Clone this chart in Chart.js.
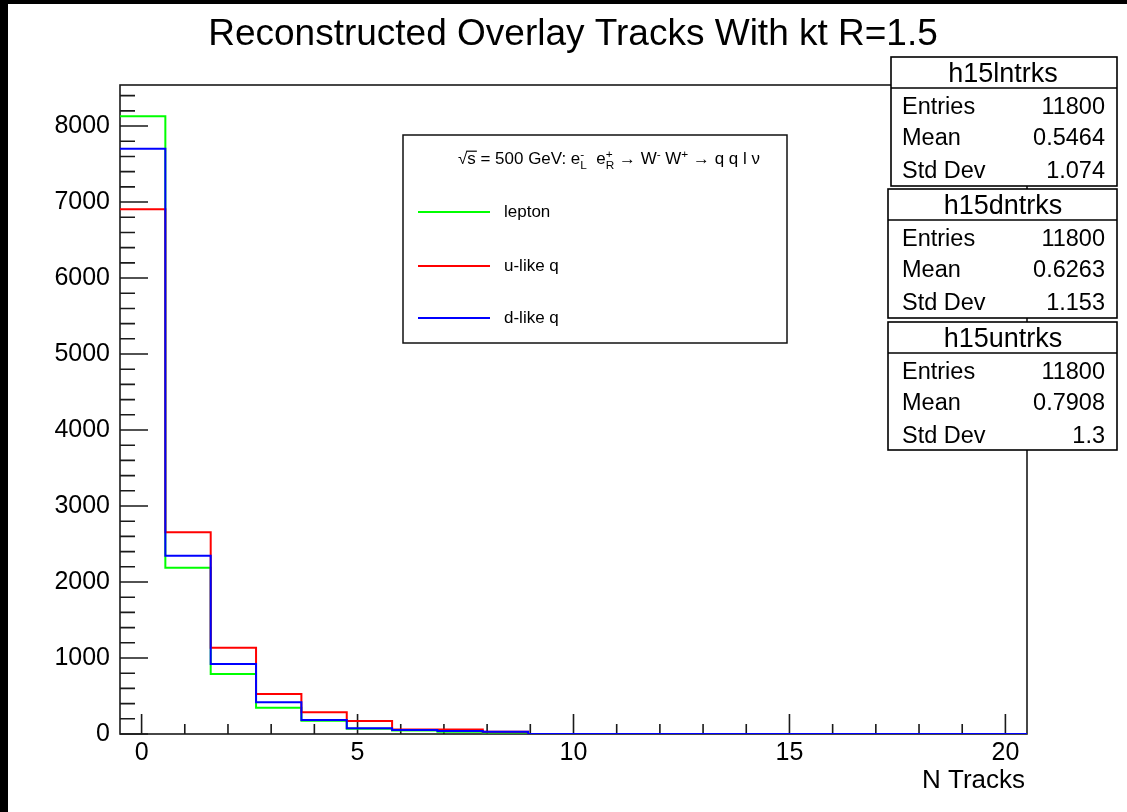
<!DOCTYPE html>
<html>
<head>
<meta charset="utf-8">
<title>Reconstructed Overlay Tracks</title>
<script src="https://cdn.jsdelivr.net/npm/chart.js@4.4.0/dist/chart.umd.min.js"></script>
<style>
  html, body { margin: 0; padding: 0; background: #fff; }
  #plot { display: block; }
</style>
</head>
<body>
<canvas id="plot" width="1127" height="812"></canvas>
<script>
"use strict";

// histogram binning: 20 bins from -0.5 to 20.5
const binLow = -0.5;
const binHigh = 20.5;
const nBins = 20;

// track counts per bin
const leptonCounts = [8130, 2188, 789, 346, 175, 70, 45, 30, 20, 0, 0, 0, 0, 0, 0, 0, 0, 0, 0, 0];
const uLikeCounts  = [6905, 2654, 1136, 526, 286, 171, 59, 59, 30, 0, 0, 0, 0, 0, 0, 0, 0, 0, 0, 0];
const dLikeCounts  = [7701, 2346, 921, 417, 184, 75, 53, 40, 30, 0, 0, 0, 0, 0, 0, 0, 0, 0, 0, 0];

const seriesNames = ['lepton', 'u-like q', 'd-like q'];
const seriesColors = ['#00ff00', '#ff0000', '#0000ff'];

const xTickLabels = [0, 5, 10, 15, 20];
const yTickLabels = [0, 1000, 2000, 3000, 4000, 5000, 6000, 7000, 8000];
const yMax = 8540;

// stats boxes, top to bottom
const statNames   = ['h15lntrks', 'h15dntrks', 'h15untrks'];
const statEntries = ['11800', '11800', '11800'];
const statMeans   = ['0.5464', '0.6263', '0.7908'];
const statStdDevs = ['1.074', '1.153', '1.3'];

const FONT = '"Liberation Sans", Arial, Helvetica, sans-serif';

function toSteps(counts) {
    const width = (binHigh - binLow) / nBins;
    const pts = counts.map((c, i) => ({ x: binLow + i * width, y: c }));
    pts.push({ x: binHigh, y: counts[counts.length - 1] });
    return pts;
}

function histDataset(i, counts, order) {
    return {
        label: seriesNames[i],
        data: toSteps(counts),
        borderColor: seriesColors[i],
        borderWidth: 2,
        pointRadius: 0,
        fill: false,
        stepped: 'before',
        order: order
    };
}

// axis frame with ROOT-style ticks pointing inward
const frameTicks = {
    id: 'frameTicks',
    beforeDatasetsDraw(chart) {
        const ctx = chart.ctx;
        const a = chart.chartArea;
        const xs = chart.scales.x;
        const ys = chart.scales.y;
        ctx.save();
        ctx.strokeStyle = '#1a1a1a';
        ctx.lineWidth = 1.6;
        ctx.strokeRect(a.left, a.top, a.right - a.left, a.bottom - a.top);
        ctx.beginPath();
        for (let v = 0; v <= 20; v++) {
            const px = xs.getPixelForValue(v);
            const len = v % 5 === 0 ? 20 : 10;
            ctx.moveTo(px, a.bottom);
            ctx.lineTo(px, a.bottom - len);
        }
        for (let v = 0; v <= yMax; v += 200) {
            const py = ys.getPixelForValue(v);
            const len = v % 1000 === 0 ? 28 : 15;
            ctx.moveTo(a.left, py);
            ctx.lineTo(a.left + len, py);
        }
        ctx.stroke();
        ctx.restore();
    }
};

// draws a run of text pieces with optional super/subscripts
function drawRich(ctx, parts, x, y, size) {
    let cx = x;
    parts.forEach(p => {
        const s = p.small ? size * 0.7 : size;
        ctx.font = s + 'px ' + FONT;
        const dy = p.sup ? -size * 0.38 : (p.sub ? size * 0.3 : 0);
        ctx.fillText(p.t, cx, y + dy);
        const w = ctx.measureText(p.t).width;
        if (p.bar) {
            ctx.beginPath();
            ctx.lineWidth = 1.2;
            ctx.moveTo(cx - 1, y - size * 0.8);
            ctx.lineTo(cx + w + 1, y - size * 0.8);
            ctx.stroke();
        }
        if (!p.stack) cx += w;
    });
    return cx - x;
}

const annotations = {
    id: 'annotations',
    afterDraw(chart) {
        const ctx = chart.ctx;
        ctx.save();
        ctx.fillStyle = '#000';
        ctx.strokeStyle = '#000';

        // title
        ctx.font = '37px ' + FONT;
        ctx.textAlign = 'center';
        ctx.textBaseline = 'alphabetic';
        ctx.fillText('Reconstructed Overlay Tracks With kt R=1.5', 573, 45);

        // x axis title
        ctx.font = '26px ' + FONT;
        ctx.textAlign = 'right';
        ctx.fillText('N Tracks', 1025, 788);

        // legend
        ctx.fillStyle = '#fff';
        ctx.fillRect(403, 135, 384, 208);
        ctx.lineWidth = 1.5;
        ctx.strokeStyle = '#111';
        ctx.strokeRect(403, 135, 384, 208);
        ctx.fillStyle = '#000';
        ctx.strokeStyle = '#000';
        ctx.textAlign = 'left';
        const header = [
            { t: '√' }, { t: 's', bar: true }, { t: ' = 500 GeV: e' },
            { t: '-', sup: true, small: true, stack: true }, { t: 'L', sub: true, small: true },
            { t: '  e' }, { t: '+', sup: true, small: true, stack: true }, { t: 'R', sub: true, small: true },
            { t: ' → W' }, { t: '-', sup: true, small: true }, { t: ' W' }, { t: '+', sup: true, small: true },
            { t: ' → q q l ν' }
        ];
        ctx.save();
        ctx.translate(458, 164);
        ctx.scale(1.06, 1);
        drawRich(ctx, header, 0, 0, 16);
        ctx.restore();

        const rowY = [212, 266, 318];
        ctx.font = '17px ' + FONT;
        ctx.textBaseline = 'middle';
        seriesNames.forEach((name, i) => {
            ctx.strokeStyle = seriesColors[i];
            ctx.lineWidth = 2;
            ctx.beginPath();
            ctx.moveTo(418, rowY[i]);
            ctx.lineTo(490, rowY[i]);
            ctx.stroke();
            ctx.fillText(name, 504, rowY[i]);
        });

        // stats boxes
        const boxes = [
            { x: 891, y: 57, w: 226, h: 129 },
            { x: 888, y: 189, w: 229, h: 129 },
            { x: 888, y: 322, w: 229, h: 128 }
        ];
        boxes.forEach((b, i) => {
            ctx.fillStyle = '#fff';
            ctx.fillRect(b.x, b.y, b.w, b.h);
            ctx.strokeStyle = '#000';
            ctx.lineWidth = 1.6;
            ctx.strokeRect(b.x, b.y, b.w, b.h);
            ctx.beginPath();
            ctx.moveTo(b.x, b.y + 31);
            ctx.lineTo(b.x + b.w, b.y + 31);
            ctx.stroke();
            ctx.fillStyle = '#000';
            ctx.textBaseline = 'middle';
            ctx.textAlign = 'center';
            ctx.font = '27px ' + FONT;
            ctx.fillText(statNames[i], 1003, b.y + 18);
            ctx.font = '23.5px ' + FONT;
            const rows = [['Entries', statEntries[i]], ['Mean', statMeans[i]], ['Std Dev', statStdDevs[i]]];
            const offs = [51, 82, 115];
            rows.forEach((r, k) => {
                ctx.textAlign = 'left';
                ctx.fillText(r[0], 902, b.y + offs[k]);
                ctx.textAlign = 'right';
                ctx.fillText(r[1], 1105, b.y + offs[k]);
            });
        });

        // dark border of the canvas
        ctx.fillStyle = '#000';
        ctx.fillRect(0, 0, 1127, 4);
        ctx.fillRect(0, 0, 8, 812);
        ctx.restore();
    }
};

const context = document.getElementById('plot');
const histChart = new Chart(context, {
    type: 'line',
    data: {
        datasets: [
            histDataset(0, leptonCounts, 3),
            histDataset(1, uLikeCounts, 2),
            histDataset(2, dLikeCounts, 1)
        ]
    },
    options: {
        responsive: false,
        animation: false,
        layout: { padding: { top: 85, right: 100, left: 0, bottom: 0 } },
        plugins: {
            legend: { display: false },
            tooltip: { enabled: false },
            title: { display: false }
        },
        scales: {
            x: {
                type: 'linear',
                min: binLow,
                max: binHigh,
                grid: { display: false, drawTicks: false },
                border: { display: false },
                ticks: {
                    color: '#000',
                    font: { family: FONT, size: 25 },
                    padding: 4,
                    maxRotation: 0,
                    callback: (value) => String(value)
                },
                afterBuildTicks(scale) {
                    scale.ticks = xTickLabels.map(v => ({ value: v }));
                },
                afterFit(scale) {
                    scale.height = 78;
                }
            },
            y: {
                type: 'linear',
                min: 0,
                max: yMax,
                grid: { display: false, drawTicks: false },
                border: { display: false },
                ticks: {
                    color: '#000',
                    font: { family: FONT, size: 25 },
                    padding: 10,
                    callback: (value) => String(value)
                },
                afterBuildTicks(scale) {
                    scale.ticks = yTickLabels.map(v => ({ value: v }));
                },
                afterFit(scale) {
                    scale.width = 120;
                }
            }
        }
    },
    plugins: [frameTicks, annotations]
});
</script>
</body>
</html>
